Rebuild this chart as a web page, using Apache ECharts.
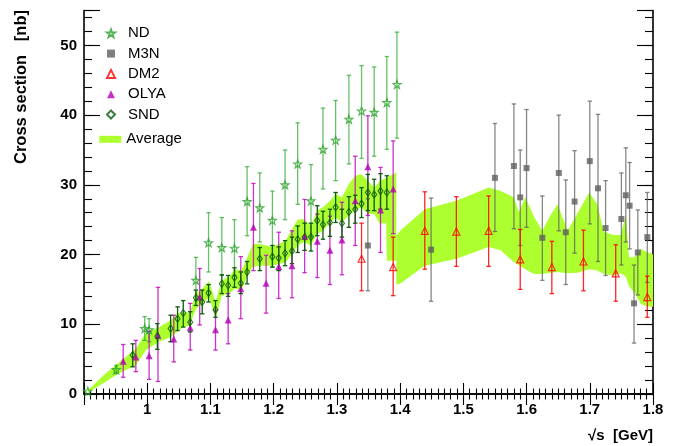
<!DOCTYPE html>
<html><head><meta charset="utf-8">
<script src="https://cdn.jsdelivr.net/npm/echarts@6/dist/echarts.min.js"></script>
<style>html,body{margin:0;padding:0;background:#fff}#c{width:676px;height:446px}</style>
</head><body><div id="c"></div>
<script>
// ---------------- data ----------------
const ndX  = [0.906,0.951,0.996,1.003,1.077,1.097,1.118,1.138,1.158,1.178,1.198,1.218,1.238,1.259,1.278,1.298,1.319,1.339,1.359,1.379,1.395];
const ndY  = [0.4,3.5,9.4,9.2,16.3,21.7,21.0,20.9,27.6,26.7,24.9,30.0,33.0,27.7,35.1,36.4,39.4,40.6,40.4,41.8,44.4];
const ndLo = [0.4,2.9,7.7,7.5,13.4,17.5,17.0,17.0,22.7,21.8,18.2,25.0,27.2,22.5,29.4,30.6,33.0,33.8,34.1,35.1,36.7];
const ndHi = [0.4,4.1,11.1,10.8,19.6,26.0,25.3,25.0,32.6,31.7,29.1,35.0,38.9,32.9,41.0,42.1,45.7,47.1,46.9,48.4,51.9];

const m3nX  = [1.349,1.449,1.550,1.580,1.590,1.600,1.625,1.651,1.662,1.676,1.700,1.713,1.725,1.750,1.757,1.763,1.770,1.776,1.791];
const m3nY  = [21.3,20.7,31.0,32.7,28.2,32.4,22.4,31.7,23.2,27.6,33.4,29.5,23.8,25.1,28.5,27.0,13.0,20.3,22.5];
const m3nLo = [14.8,13.3,23.3,23.7,21.3,23.9,16.3,23.4,15.7,20.2,24.4,19.0,17.0,18.5,21.8,20.8,7.3,14.2,16.0];
const m3nHi = [28.0,28.1,38.8,41.6,35.0,40.8,28.4,40.0,30.7,34.9,42.0,40.1,30.6,31.7,35.3,33.2,18.5,26.4,28.9];

const dm2X  = [1.339,1.389,1.439,1.489,1.540,1.590,1.640,1.690,1.741,1.791];
const dm2Y  = [19.4,18.2,23.4,23.3,23.4,19.3,18.2,19.0,17.3,13.9];
const dm2Lo = [14.8,14.1,17.9,18.3,18.3,15.0,14.4,14.8,13.3,11.0];
const dm2Hi = [24.5,22.5,29.0,28.3,28.4,23.6,21.9,23.5,21.4,16.9];

const olyaX  = [0.962,0.982,1.003,1.017,1.042,1.068,1.083,1.108,1.128,1.148,1.168,1.188,1.208,1.229,1.249,1.269,1.289,1.308,1.329,1.349,1.369,1.389];
const olyaY  = [4.7,5.3,5.5,8.4,7.9,9.5,13.9,9.2,10.6,15.1,23.9,15.9,18.3,18.4,22.6,21.9,20.6,22.1,27.7,32.6,26.4,29.4];
const olyaLo = [2.4,3.2,2.1,1.8,4.6,6.3,9.9,6.3,7.2,10.8,17.7,11.6,13.7,13.8,17.4,16.7,15.7,17.1,21.3,25.6,20.3,23.0];
const olyaHi = [7.1,7.7,9.0,15.3,11.3,13.0,18.0,12.0,14.4,19.7,30.2,19.9,23.2,23.4,27.9,25.8,25.5,27.5,34.1,39.9,32.5,36.3];

const sndX  = [0.977,1.016,1.037,1.048,1.057,1.068,1.077,1.087,1.097,1.108,1.118,1.128,1.138,1.148,1.158,1.178,1.198,1.208,1.218,1.229,1.238,1.249,1.259,1.269,1.278,1.289,1.298,1.308,1.319,1.329,1.339,1.349,1.359,1.369,1.379];
const sndY  = [5.6,8.3,9.4,10.8,11.6,10.3,13.8,13.2,14.5,12.1,15.8,15.6,16.7,15.9,17.5,19.4,19.7,19.5,20.2,20.5,22.2,22.5,22.5,24.9,24.3,24.6,26.8,24.5,26.1,26.5,27.3,28.9,28.6,29.1,28.9];
const sndLo = [3.9,6.4,7.5,9.1,9.6,8.9,12.7,11.5,13.2,11.0,14.4,14.0,15.3,14.4,15.8,17.7,18.2,17.7,18.4,18.7,20.3,20.6,20.5,22.7,22.2,22.6,24.6,22.5,23.9,24.5,25.3,26.3,26.3,26.5,26.5];
const sndHi = [7.2,10.1,11.3,12.5,13.4,11.8,14.9,14.9,15.7,13.4,17.1,17.0,18.1,17.5,19.0,21.0,21.3,21.1,22.0,22.5,24.1,24.5,24.5,27.0,26.2,26.5,28.9,26.5,28.3,28.5,29.6,31.5,30.8,31.6,31.3];

// average band (two pieces)
const bandLeftX  = [0.906,0.930,0.956,0.982,0.998,1.019,1.038,1.047,1.057,1.067,1.077,1.088,1.098,1.108,1.118,1.130,1.138,1.149,1.158,1.167,1.178,1.198,1.219,1.229,1.238,1.248,1.259,1.269,1.278,1.289,1.298,1.308,1.319,1.329,1.339,1.349,1.359,1.368,1.378,1.379,1.394];
const bandLeftLo = [0.2,1.5,3.0,4.1,6.3,7.5,8.2,8.9,9.6,9.8,12.2,13.0,13.9,10.8,14.1,14.4,15.1,14.9,16.8,18.2,18.4,18.4,18.9,20.1,21.3,21.8,21.3,23.0,23.4,24.6,25.3,24.6,25.6,26.3,26.8,25.8,25.8,24.4,24.5,19.1,19.1];
const bandLeftHi = [0.5,2.6,4.6,6.5,8.8,9.6,10.6,11.5,11.8,11.6,14.4,15.2,16.2,13.2,16.3,16.8,17.9,17.7,19.5,21.5,21.5,21.1,22.0,23.7,25.0,25.1,24.1,26.3,26.8,27.7,28.7,28.2,30.1,31.3,31.5,30.6,29.6,30.5,31.0,31.0,31.8];
const bandRightX  = [1.394,1.400,1.439,1.489,1.540,1.559,1.580,1.588,1.598,1.612,1.625,1.637,1.649,1.665,1.681,1.699,1.712,1.722,1.737,1.749,1.757,1.762,1.770,1.781,1.792,1.800];
const bandRightLo = [15.7,15.8,18.4,19.4,21.1,20.6,18.9,18.5,17.9,17.2,17.2,17.4,17.5,17.3,17.4,17.9,17.7,17.2,17.0,17.3,16.8,15.5,14.6,12.9,12.5,12.5];
const bandRightHi = [22.7,23.4,26.5,27.7,29.6,29.1,28.2,26.1,28.2,25.4,23.4,25.5,27.2,23.4,26.0,28.9,27.2,23.3,22.8,22.8,25.6,19.6,19.6,20.8,20.3,20.0];

const legendNames = ['ND','M3N','DM2','OLYA','SND'];
const xTickLabels = ['','1','1.1','1.2','1.3','1.4','1.5','1.6','1.7','1.8'];
const yTickLabels = ['0','10','20','30','40','50'];

// ---------------- chart ----------------
const FONT = '"Liberation Sans", Arial, sans-serif';
const bandSegments = [
  {x: bandLeftX, lo: bandLeftLo, hi: bandLeftHi},
  {x: bandRightX, lo: bandRightLo, hi: bandRightHi}
];
const starPath = 'path://M0,-10L2.35,-3.24L9.51,-3.09L3.8,1.24L5.88,8.09L0,4L-5.88,8.09L-3.8,1.24L-9.51,-3.09L-2.35,-3.24Z';

function errSeries(name, xs, lo, hi, color) {
  return {
    type: 'custom', name: name + ' err', silent: true, z: 3,
    data: xs.map((x, i) => [x, lo[i], hi[i]]),
    encode: {x: 0, y: [1, 2]},
    renderItem: function (params, api) {
      const x = api.value(0), l = api.value(1), h = api.value(2);
      if (h - l < 1e-9) return {type: 'group', children: []};
      const p1 = api.coord([x, l]), p2 = api.coord([x, h]);
      const st = {stroke: color, lineWidth: 1.3};
      return {type: 'group', children: [
        {type: 'line', shape: {x1: p1[0], y1: p1[1], x2: p2[0], y2: p2[1]}, style: st},
        {type: 'line', shape: {x1: p1[0] - 2.2, y1: p1[1], x2: p1[0] + 2.2, y2: p1[1]}, style: st},
        {type: 'line', shape: {x1: p2[0] - 2.2, y1: p2[1], x2: p2[0] + 2.2, y2: p2[1]}, style: st}
      ]};
    }
  };
}

function pts(xs, ys) { return xs.map((x, i) => [x, ys[i]]); }

const axisCommon = {
  axisLine: {show: true, lineStyle: {color: '#000', width: 1.6}},
  splitLine: {show: false}
};
function xAx(pos, labels) {
  return Object.assign({}, axisCommon, {
    type: 'value', min: 0.9, max: 1.8, interval: 0.1, position: pos,
    axisTick: {show: true, inside: true, length: 11, lineStyle: {color: '#000', width: 1.1}},
    minorTick: {show: true, splitNumber: 10, length: 5.5, lineStyle: {color: '#000', width: 1.1}},
    axisLabel: {show: labels, margin: 8, color: '#000', fontFamily: FONT, fontWeight: 'bold', fontSize: 15,
      formatter: function (v) { const k = Math.round((v - 0.9) * 10); return xTickLabels[k] !== undefined ? xTickLabels[k] : ''; }}
  });
}
function yAx(pos, step, len, labels) {
  return Object.assign({}, axisCommon, {
    type: 'value', min: 0, max: 55, interval: step, position: pos,
    axisLine: {show: step === 10, lineStyle: {color: '#000', width: 1.6}},
    axisTick: {show: true, inside: true, length: len, lineStyle: {color: '#000', width: 1.1}},
    axisLabel: {show: labels, margin: 7, color: '#000', fontFamily: FONT, fontWeight: 'bold', fontSize: 15,
      formatter: function (v) { const k = Math.round(v / 10); return (Math.abs(v - k * 10) < 1e-6 && yTickLabels[k] !== undefined) ? yTickLabels[k] : ''; }}
  });
}

const option = {
  animation: false,
  backgroundColor: '#fff',
  grid: {left: 84, right: 23, top: 10.5, bottom: 52, containLabel: false},
  xAxis: [xAx('bottom', true), xAx('top', false)],
  yAxis: [yAx('left', 10, 16, true), yAx('left', 2, 8, false), yAx('right', 10, 16, false), yAx('right', 2, 8, false)],
  legend: [
    {data: legendNames, orient: 'vertical', left: 101, top: 20.3, itemWidth: 8, itemHeight: 8, itemGap: 4.3,
     selectedMode: false,
     textStyle: {fontFamily: FONT, fontSize: 15, color: '#000', lineHeight: 16, padding: [0, 0, 0, 8]}},
    {data: [{name: 'Average', icon: 'rect'}], orient: 'vertical', left: 94.3, top: 126.3, itemWidth: 22, itemHeight: 7,
     selectedMode: false,
     textStyle: {fontFamily: FONT, fontSize: 15, color: '#000', lineHeight: 16}}
  ],
  graphic: [
    {type: 'text', x: 21, y: 10, rotation: Math.PI / 2,
     style: {text: 'Cross section   [nb]', font: 'bold 16.5px ' + FONT, fill: '#000', align: 'right', verticalAlign: 'middle'}},
    {type: 'text', x: 653, y: 436,
     style: {text: '\u221As  [GeV]', font: 'bold 15px ' + FONT, fill: '#000', align: 'right', verticalAlign: 'middle'}}
  ],
  series: [
    {
      type: 'custom', name: 'Average', z: 1, silent: true,
      itemStyle: {color: '#adff2f'},
      data: bandSegments.map((s, i) => [s.x[0], s.lo[0], i]),
      encode: {x: 0, y: 1},
      renderItem: function (params, api) {
        const s = bandSegments[api.value(2)];
        const p = s.x.map((x, k) => api.coord([x, s.hi[k]]));
        for (let k = s.x.length - 1; k >= 0; k--) p.push(api.coord([s.x[k], s.lo[k]]));
        return {type: 'polygon', shape: {points: p}, style: {fill: '#adff2f', stroke: null}};
      }
    },
    errSeries('ND', ndX, ndLo, ndHi, 'rgba(40,165,40,0.7)'),
    errSeries('M3N', m3nX, m3nLo, m3nHi, 'rgba(95,95,95,0.75)'),
    errSeries('DM2', dm2X, dm2Lo, dm2Hi, 'rgba(255,0,0,0.85)'),
    errSeries('OLYA', olyaX, olyaLo, olyaHi, 'rgba(190,0,190,0.8)'),
    errSeries('SND', sndX, sndLo, sndHi, '#0b5d0b'),
    {type: 'scatter', name: 'ND', z: 5, data: pts(ndX, ndY), symbol: starPath, symbolSize: 8,
     itemStyle: {color: 'rgba(255,255,255,0)', borderColor: '#2ea02e', borderWidth: 1.2}},
    {type: 'scatter', name: 'M3N', z: 5, data: pts(m3nX, m3nY), symbol: 'rect', symbolSize: 6,
     itemStyle: {color: '#5f5f5f'}},
    {type: 'scatter', name: 'DM2', z: 5, data: pts(dm2X, dm2Y), symbol: 'triangle', symbolSize: 7,
     itemStyle: {color: 'rgba(255,255,255,0)', borderColor: '#ff0000', borderWidth: 1.2}},
    {type: 'scatter', name: 'OLYA', z: 5, data: pts(olyaX, olyaY), symbol: 'triangle', symbolSize: 7,
     itemStyle: {color: '#b400b4'}},
    {type: 'scatter', name: 'SND', z: 5, data: pts(sndX, sndY), symbol: 'diamond', symbolSize: [5, 7],
     itemStyle: {color: 'rgba(255,255,255,0)', borderColor: '#0b5d0b', borderWidth: 1.2}}
  ]
};
const chart = echarts.init(document.getElementById('c'), null, {renderer: 'canvas'});
chart.setOption(option);
</script></body></html>
